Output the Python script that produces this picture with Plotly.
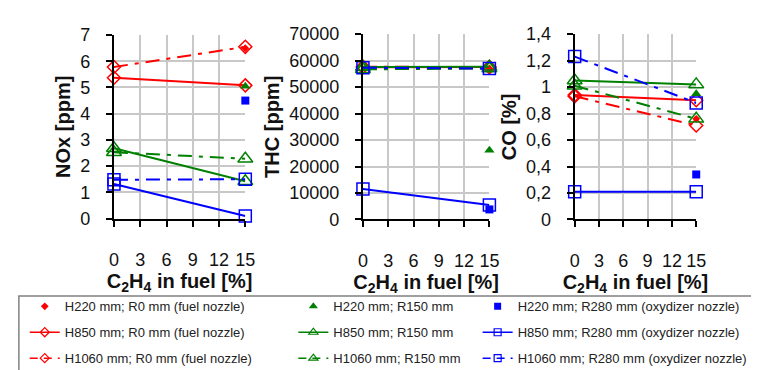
import plotly.graph_objects as go

W, H = 759, 370
x_fuel = [0, 15]
x_ticks = [0, 3, 6, 9, 12, 15]

# NOx [ppm]
nox_h220_r0 = [None, 6.5]
nox_h220_r150 = [None, 5.05]
nox_h220_r280 = [None, 4.5]
nox_h850_r0 = [5.37, 5.08]
nox_h850_r150 = [2.68, 1.42]
nox_h850_r280 = [1.32, 0.1]
nox_h1060_r0 = [5.78, 6.55]
nox_h1060_r150 = [2.53, 2.28]
nox_h1060_r280 = [1.48, 1.5]

# THC [ppm]
thc_h220_r0 = [None, 57000]
thc_h220_r150 = [None, 26100]
thc_h220_r280 = [None, 3800]
thc_h850_r0 = [57500, 57600]
thc_h850_r150 = [57600, 57700]
thc_h850_r280 = [11500, 5500]
thc_h1060_r0 = [57700, 57500]
thc_h1060_r150 = [56700, 57000]
thc_h1060_r280 = [57300, 57000]

# CO [%]
co_h220_r0 = [None, 0.76]
co_h220_r150 = [None, 0.95]
co_h220_r280 = [None, 0.34]
co_h850_r0 = [0.94, 0.90]
co_h850_r150 = [1.05, 1.02]
co_h850_r280 = [0.21, 0.21]
co_h1060_r0 = [0.93, 0.71]
co_h1060_r150 = [1.01, 0.76]
co_h1060_r280 = [1.23, 0.88]

RED, GREEN, BLUE = "#FF0000", "#008000", "#0000FF"
FONT = "Liberation Sans, Arial, sans-serif"

series = [
    ("H220 mm; R0 mm (fuel nozzle)", RED, "pt", "diamond", "legend", [nox_h220_r0, thc_h220_r0, co_h220_r0]),
    ("H850 mm; R0 mm (fuel nozzle)", RED, "solid", "diamond-open", "legend", [nox_h850_r0, thc_h850_r0, co_h850_r0]),
    ("H1060 mm; R0 mm (fuel nozzle)", RED, "dash", "diamond-open", "legend", [nox_h1060_r0, thc_h1060_r0, co_h1060_r0]),
    ("H220 mm; R150 mm", GREEN, "pt", "triangle-up", "legend2", [nox_h220_r150, thc_h220_r150, co_h220_r150]),
    ("H850 mm; R150 mm", GREEN, "solid", "triangle-up-open", "legend2", [nox_h850_r150, thc_h850_r150, co_h850_r150]),
    ("H1060 mm; R150 mm", GREEN, "dash", "triangle-up-open", "legend2", [nox_h1060_r150, thc_h1060_r150, co_h1060_r150]),
    ("H220 mm; R280 mm (oxydizer nozzle)", BLUE, "pt", "square", "legend3", [nox_h220_r280, thc_h220_r280, co_h220_r280]),
    ("H850 mm; R280 mm (oxydizer nozzle)", BLUE, "solid", "square-open", "legend3", [nox_h850_r280, thc_h850_r280, co_h850_r280]),
    ("H1060 mm; R280 mm (oxydizer nozzle)", BLUE, "dash", "square-open", "legend3", [nox_h1060_r280, thc_h1060_r280, co_h1060_r280]),
]

SIZES = {"diamond": 6, "triangle-up": 9, "square": 8,
         "diamond-open": 10, "triangle-up-open": 13, "square-open": 12}
LEG_SIZES = {"diamond": 6, "triangle-up": 8, "square": 7,
             "diamond-open": 7, "triangle-up-open": 8, "square-open": 7}
DASH = "14px,7px,4px,7px"

fig = go.Figure()
axes = [("x", "y"), ("x2", "y2"), ("x3", "y3")]
for name, col, kind, sym, leg, data in series:
    for i, (xa, ya) in enumerate(axes):
        if kind == "pt":
            fig.add_trace(go.Scatter(
                x=x_fuel, y=data[i], mode="markers", name=name,
                marker=dict(symbol=sym, size=SIZES[sym], color=col),
                xaxis=xa, yaxis=ya, showlegend=False, cliponaxis=False))
        else:
            fig.add_trace(go.Scatter(
                x=x_fuel, y=data[i], mode="lines+markers", name=name,
                line=dict(color=col, width=2, dash="solid" if kind == "solid" else DASH),
                marker=dict(symbol=sym, size=SIZES[sym], color=col, line=dict(width=1.5, color=col)),
                xaxis=xa, yaxis=ya, showlegend=False, cliponaxis=False))
    # legend entry
    if kind == "pt":
        fig.add_trace(go.Scatter(
            x=[None], y=[None], mode="markers", name=name,
            marker=dict(symbol=sym, size=LEG_SIZES[sym], color=col),
            legend=leg, legendgroup=name, showlegend=True))
    else:
        fig.add_trace(go.Scatter(
            x=[None], y=[None], mode="lines+markers", name=name,
            line=dict(color=col, width=1.5, dash="solid" if kind == "solid" else "8px,6px"),
            marker=dict(symbol=sym, size=LEG_SIZES[sym], color=col, line=dict(width=1.2, color=col)),
            legend=leg, legendgroup=name, showlegend=True))

def px_x(a, b):
    return [a / W, b / W]

def px_y(top, bottom):
    return [(H - bottom) / H, (H - top) / H]

xdoms = [px_x(103, 237), px_x(357, 486), px_x(573, 697)]
ydoms = [px_y(18, 212), px_y(17, 213), px_y(17, 213)]
yinfo = [
    dict(range=[0, 7], dtick=1, title="NOx [ppm]", tickformat="d"),
    dict(range=[0, 70000], dtick=10000, title="THC [ppm]", tickformat="d"),
    dict(range=[0, 1.4], dtick=0.2, title="CO [%]", tickformat=""),
]

layout = dict(
    width=W, height=H, margin=dict(l=0, r=0, t=0, b=0),
    paper_bgcolor="white", plot_bgcolor="white",
    font=dict(family=FONT, color="#111"),
    separators=",.",
)
for i in range(3):
    sx = "" if i == 0 else str(i + 1)
    layout["xaxis" + sx] = dict(
        domain=xdoms[i], anchor="y" + sx, range=[0, 15], tickvals=x_ticks,
        showgrid=True, gridcolor="#c8c8c8", gridwidth=1.5, zeroline=False,
        showline=True, linecolor="black", linewidth=2,
        ticks="outside", ticklen=6, tickcolor="black", tickwidth=1.5,
        ticklabelstandoff=18,
        tickfont=dict(size=18, family=FONT, color="#111"),
        title=dict(text="<b>C<sub>2</sub>H<sub>4</sub> in fuel [%]</b>",
                   font=dict(size=20, family=FONT, color="#111"), standoff=5),
    )
    yi = yinfo[i]
    layout["yaxis" + sx] = dict(
        domain=ydoms[i], anchor="x" + sx, range=yi["range"], dtick=yi["dtick"],
        tickformat=yi["tickformat"],
        showgrid=True, gridcolor="#c8c8c8", gridwidth=1.5, zeroline=False,
        showline=True, linecolor="black", linewidth=2,
        ticks="outside", ticklen=6, tickcolor="black", tickwidth=1.5,
        ticklabelstandoff=12,
        tickfont=dict(size=18, family=FONT, color="#111"),
        title=dict(text="<b>" + yi["title"] + "</b>",
                   font=dict(size=20, family=FONT, color="#111"), standoff=4),
    )

leg_common = dict(
    orientation="v", yanchor="top", xanchor="left", y=(H - 289) / H,
    font=dict(size=13, family=FONT, color="#222"), bgcolor="rgba(0,0,0,0)",
    tracegroupgap=6, itemsizing="trace",
)
layout["legend"] = dict(leg_common, x=12 / W)
layout["legend2"] = dict(leg_common, x=286 / W)
layout["legend3"] = dict(leg_common, x=474 / W)
layout["shapes"] = [dict(type="rect", xref="paper", yref="paper",
                         x0=6 / W, x1=757 / W, y0=-0.02, y1=(H - 294) / H,
                         line=dict(color="#808080", width=1.5))]
fig.update_layout(**layout)
fig.write_html("out.html")
